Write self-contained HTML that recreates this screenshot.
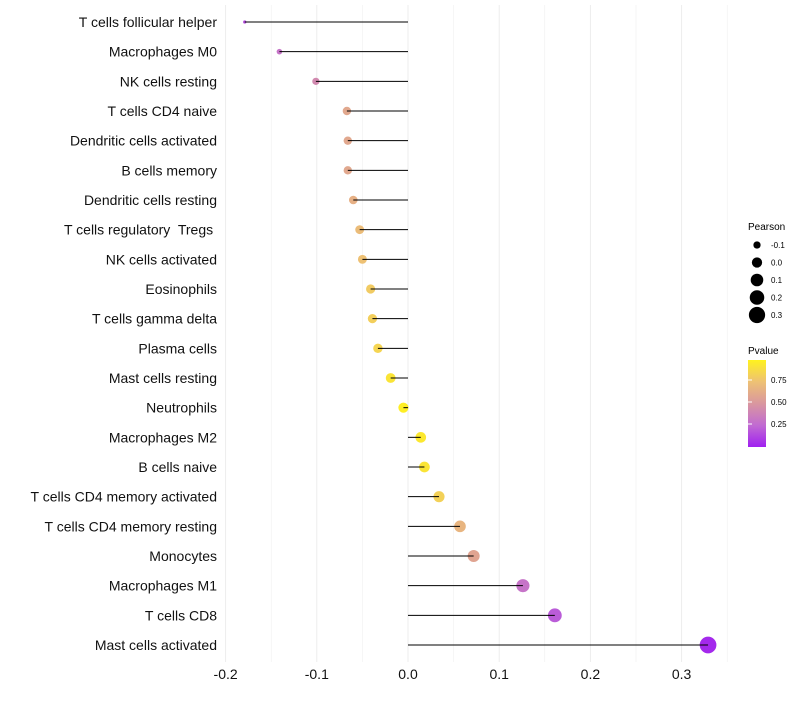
<!DOCTYPE html>
<html><head><meta charset="utf-8"><style>
body{margin:0;background:#fff;font-family:"Liberation Sans",sans-serif;}
text{white-space:pre;}
</style></head><body>
<svg id="chart" width="800" height="700" xmlns="http://www.w3.org/2000/svg">
<defs><linearGradient id="pg" x1="0" y1="1" x2="0" y2="0">
<stop offset="0" stop-color="#a020f0"/><stop offset="0.25" stop-color="#c16bd2"/>
<stop offset="0.5" stop-color="#d9979f"/><stop offset="0.75" stop-color="#eec174"/>
<stop offset="1" stop-color="#fff21e"/></linearGradient></defs>
<g id="grid"></g><g id="points"></g><g id="marks"></g><g id="labels"></g>
<g>
<text x="748" y="230" font-size="10">Pearson</text>
<g id="sizeleg"></g></g>
<g>
<text x="748" y="354" font-size="10">Pvalue</text>
<rect x="748" y="360" width="18" height="87" fill="url(#pg)"/>
<g id="colleg"></g></g>
</svg>
<script>
const categories=["T cells follicular helper","Macrophages M0","NK cells resting","T cells CD4 naive","Dendritic cells activated","B cells memory","Dendritic cells resting","T cells regulatory  Tregs ","NK cells activated","Eosinophils","T cells gamma delta","Plasma cells","Mast cells resting","Neutrophils","Macrophages M2","B cells naive","T cells CD4 memory activated","T cells CD4 memory resting","Monocytes","Macrophages M1","T cells CD8","Mast cells activated"];
const pearson=[-0.179,-0.141,-0.101,-0.067,-0.066,-0.066,-0.060,-0.053,-0.050,-0.041,-0.039,-0.033,-0.019,-0.005,0.014,0.018,0.034,0.057,0.072,0.126,0.161,0.329];
const pvalue=[0.15,0.3,0.42,0.6,0.6,0.6,0.65,0.72,0.75,0.8,0.82,0.85,0.93,0.98,0.95,0.93,0.83,0.68,0.58,0.3,0.2,0.03];
const xTicks=[-0.2,-0.1,0.0,0.1,0.2,0.3];
const sizeLegend=[-0.1,0.0,0.1,0.2,0.3];
const colTicks=[0.25,0.5,0.75];
const NS="http://www.w3.org/2000/svg";
const x=v=>408+v*912;
const y=i=>22+i*(623/(categories.length-1));
const r=v=>Math.sqrt(Math.max(0,(v+0.2)))*11.5;
const stops=[[0,[160,32,240]],[0.25,[193,107,210]],[0.5,[217,151,159]],[0.75,[238,193,116]],[1,[255,242,30]]];
function col(p){for(let k=1;k<stops.length;k++){if(p<=stops[k][0]){const a=stops[k-1],b=stops[k],t=(p-a[0])/(b[0]-a[0]);return `rgb(${a[1].map((c,j)=>Math.round(c+(b[1][j]-c)*t)).join(',')})`;}}return 'rgb(255,242,30)';}
function mk(tag,at,parent){const e=document.createElementNS(NS,tag);for(const k in at)e.setAttribute(k,at[k]);document.getElementById(parent).appendChild(e);return e;}
for(let v=-0.2;v<=0.351;v+=0.05){const g=mk('line',{x1:x(v),x2:x(v),y1:5,y2:662,stroke:'#ededed','stroke-width':Math.abs(Math.round(v*20))%2?0.5:1},'grid');

}
xTicks.forEach(t=>{const e=mk('text',{x:x(t),y:679,'font-size':14,'text-anchor':'middle',fill:'#111'},'labels');e.textContent=t.toFixed(1);

});
categories.forEach((c,i)=>{
const t=mk('text',{x:217,y:y(i)+5,'font-size':14,'text-anchor':'end',fill:'#111'},'labels');t.textContent=c;


const p=mk('circle',{cx:x(pearson[i]),cy:y(i),r:r(pearson[i]),fill:col(pvalue[i])},'points');


const l=mk('line',{x1:x(0),x2:x(pearson[i]),y1:y(i),y2:y(i),stroke:'#000','stroke-width':1},'marks');


});
sizeLegend.forEach((v,k)=>{const cy=245+k*17.5;
const c=mk('circle',{cx:757,cy:cy,r:r(v),fill:'#000'},'sizeleg');


const t=mk('text',{x:771,y:cy+3,'font-size':8},'sizeleg');t.textContent=v.toFixed(1);

});
colTicks.forEach(v=>{const yy=446-v*88;
const l=mk('line',{x1:748,x2:752,y1:yy,y2:yy,stroke:'#fff'},'colleg');


const t=mk('text',{x:771,y:yy+3,'font-size':8},'colleg');t.textContent=v.toFixed(2);

});
</script>
</body></html>
